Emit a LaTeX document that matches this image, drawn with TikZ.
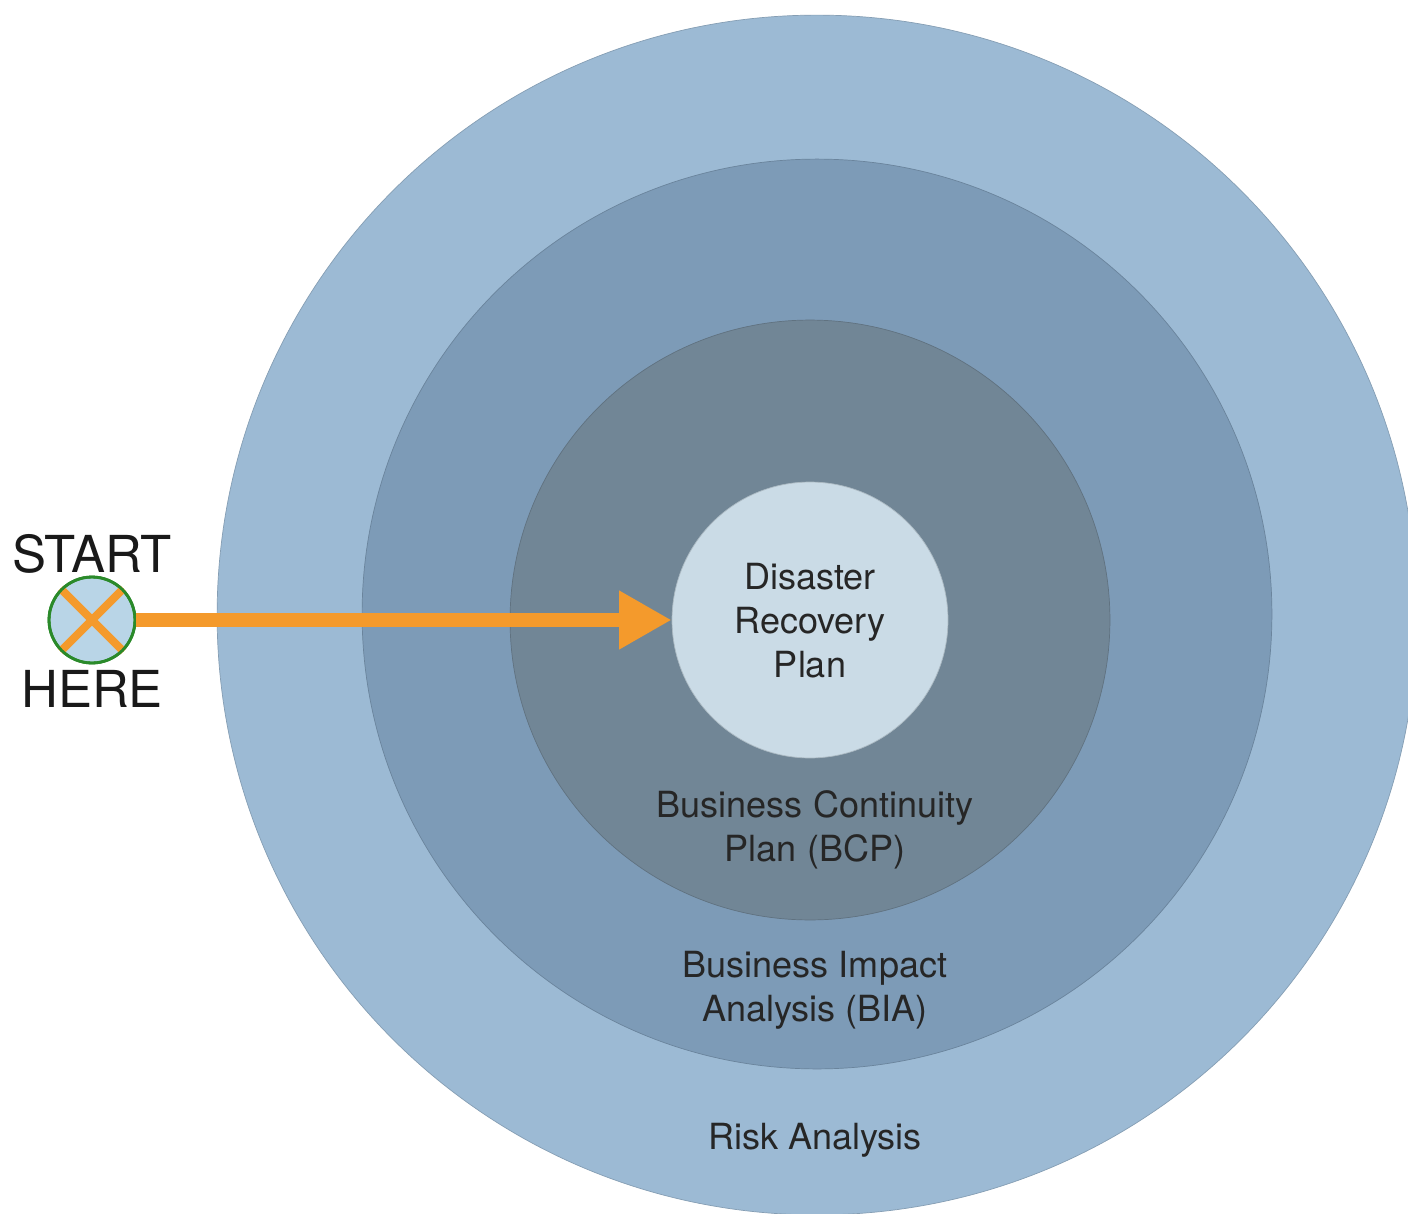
\documentclass[tikz,border=0pt]{standalone}
\usepackage{fontspec}
\setmainfont{TeX Gyre Heros}
\usetikzlibrary{positioning,arrows.meta}

\definecolor{riskblue}{HTML}{9CBAD4}
\definecolor{biablue}{HTML}{7D9BB7}
\definecolor{bcpgray}{HTML}{718696}
\definecolor{drpwhite}{HTML}{CADBE6}
\definecolor{startblue}{HTML}{B9D5E7}
\definecolor{startgreen}{HTML}{2A8A2A}
\definecolor{arroworange}{HTML}{F49A2C}

\tikzset{
  ring/.style={circle, inner sep=0pt, draw=#1!85!black, line width=0.4pt, fill=#1},
  ringlabel/.style={align=center, font=\fontsize{20.5}{25}\selectfont, text=black!85},
  startlabel/.style={font=\fontsize{29}{32}\selectfont, text=black!90}
}

\begin{document}
\begin{tikzpicture}[x=0.02cm,y=-0.02cm]
    \useasboundingbox[fill=white] (0,0) rectangle (1408,1213);
    \begin{scope}
    \clip (0,0) rectangle (1408,1213);

    % the four rings
    \node[ring=riskblue, minimum size=24cm] (risk) at (817,615) {};
    \node[ring=biablue, minimum size=18.2cm] (bia) at (817,614) {};
    \node[ring=bcpgray, minimum size=12cm] (bcp) at (810,620) {};
    \node[ring=drpwhite, minimum size=5.52cm] (drp) at (810,620) {};
    \end{scope}

    \node[ringlabel] (drptext) at (810,621) {Disaster\\Recovery\\Plan};
    \node[ringlabel] (bcptext) at (815,830) {Business Continuity\\Plan (BCP)};
    \node[ringlabel] (biatext) at (815,990) {Business Impact\\Analysis (BIA)};
    \node[ringlabel] (risktext) at (815,1140) {Risk Analysis};

    % start marker
    \node[circle, inner sep=0pt, minimum size=1.72cm, fill=startblue, draw=startgreen, line width=1.6pt] (start) at (92,620) {};
    \draw[arroworange, line width=4.5pt] (start.north west) -- (start.south east);
    \draw[arroworange, line width=4.5pt] (start.south west) -- (start.north east);
    \draw[startgreen, line width=1.6pt] (start) circle[radius=43];
    \node[startlabel, above=-2pt of start] (starttext) {START};
    \node[startlabel, below=0pt of start] (heretext) {HERE};

    \draw[arroworange, line width=8.5pt, -{Triangle[length=1.05cm, width=1.1cm]}] (start.east) -- (drp.west);
\end{tikzpicture}
\end{document}
